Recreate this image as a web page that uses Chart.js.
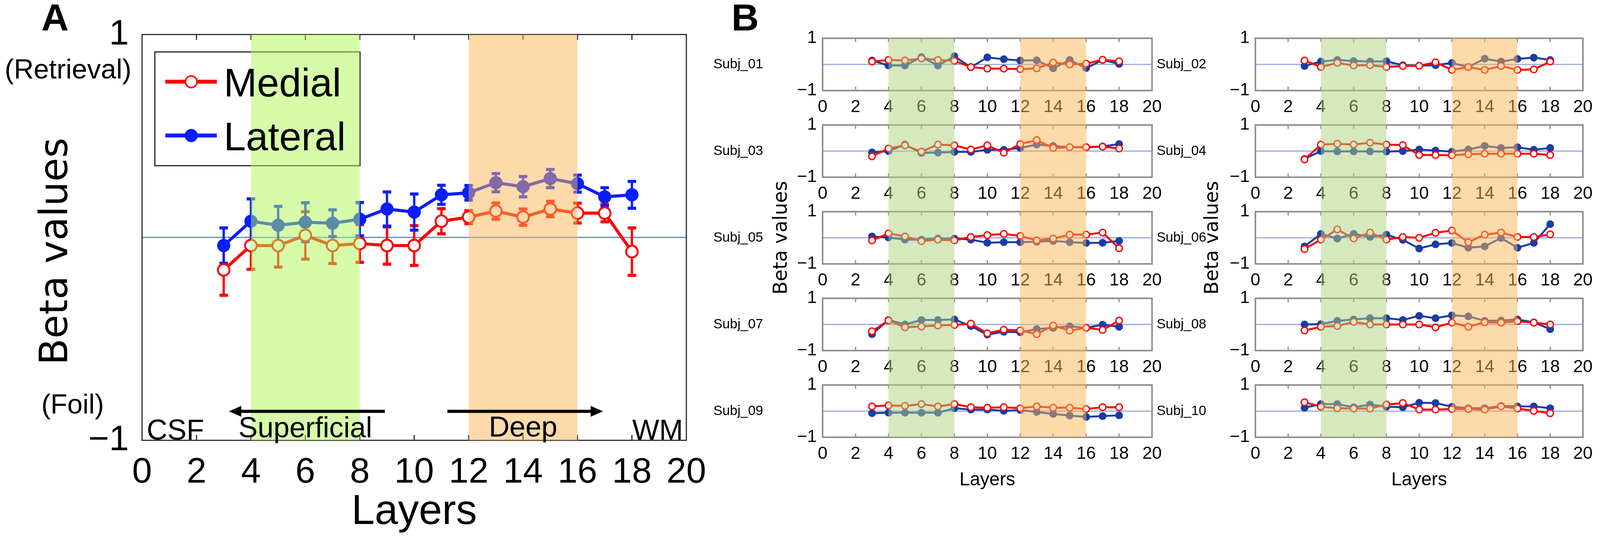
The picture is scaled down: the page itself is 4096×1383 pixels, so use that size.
<!DOCTYPE html>
<html>
<head>
<meta charset="utf-8">
<title>Beta values across layers</title>
<script src="https://cdn.jsdelivr.net/npm/chart.js@4.4.1/dist/chart.umd.min.js"></script>
<style>
  html, body { margin: 0; padding: 0; background: #ffffff; }
  #fig { position: relative; width: 4096px; height: 1383px; overflow: hidden; background: #ffffff; }
  #fig canvas { position: absolute; }
  .tag { position: absolute; font-family: "Liberation Sans", Arial, sans-serif; font-weight: bold; line-height: 1; transform: translate(-50%, -50%); color: #000; }
</style>
</head>
<body>
<div id="fig">
  <div class="tag" id="tagA">A</div>
  <div class="tag" id="tagB">B</div>
</div>
<script>
// layers sampled in every plot
const layers = [3, 4, 5, 6, 7, 8, 9, 10, 11, 12, 13, 14, 15, 16, 17, 18];
const xTicks = [0, 2, 4, 6, 8, 10, 12, 14, 16, 18, 20];
const yTicks = [-1, 1];

// panel A - group mean and error
const medialMean = [-0.16, -0.04, -0.04, 0.01, -0.04, -0.03, -0.04, -0.04, 0.08, 0.10, 0.13, 0.10, 0.14, 0.12, 0.12, -0.07];
const medialErr = [0.125, 0.117, 0.106, 0.117, 0.089, 0.093, 0.092, 0.098, 0.062, 0.032, 0.040, 0.040, 0.038, 0.049, 0.043, 0.117];
const lateralMean = [-0.04, 0.08, 0.06, 0.075, 0.07, 0.09, 0.14, 0.125, 0.21, 0.22, 0.27, 0.25, 0.29, 0.265, 0.20, 0.21];
const lateralErr = [0.087, 0.110, 0.093, 0.096, 0.066, 0.082, 0.084, 0.089, 0.047, 0.036, 0.045, 0.050, 0.045, 0.042, 0.045, 0.066];

// panel B - single subjects
const subjNames = ['Subj_01', 'Subj_02', 'Subj_03', 'Subj_04', 'Subj_05', 'Subj_06', 'Subj_07', 'Subj_08', 'Subj_09', 'Subj_10'];
const subj01Medial = [0.11, 0.17, 0.15, 0.23, 0.17, 0.14, -0.10, -0.16, -0.16, -0.18, -0.15, 0.07, 0.00, 0.03, 0.18, 0.12];
const subj01Lateral = [0.15, -0.04, -0.04, 0.28, -0.04, 0.31, -0.11, 0.27, 0.20, 0.15, 0.16, -0.15, 0.17, -0.14, 0.17, 0.02];
const subj02Medial = [0.15, -0.10, 0.06, -0.04, -0.03, -0.10, -0.06, -0.05, 0.08, -0.21, -0.10, -0.21, -0.06, -0.21, -0.19, 0.11];
const subj02Lateral = [-0.06, 0.11, 0.17, 0.13, 0.11, 0.12, -0.03, -0.05, -0.03, 0.06, -0.10, 0.22, 0.11, 0.21, 0.26, 0.17];
const subj03Medial = [-0.20, 0.10, 0.22, -0.02, 0.25, 0.22, 0.06, 0.22, -0.06, 0.27, 0.42, 0.12, 0.15, 0.15, 0.17, 0.10];
const subj03Lateral = [-0.05, 0.00, 0.25, -0.07, -0.06, -0.03, -0.03, 0.05, 0.05, 0.12, 0.25, 0.20, 0.15, 0.15, 0.18, 0.27];
const subj04Medial = [-0.32, 0.25, 0.28, 0.25, 0.32, 0.25, 0.23, -0.15, -0.15, -0.16, -0.12, -0.10, -0.10, -0.10, -0.10, -0.15];
const subj04Lateral = [-0.30, 0.00, -0.01, -0.01, -0.01, -0.02, 0.00, 0.06, 0.02, -0.02, 0.06, 0.20, 0.12, 0.15, 0.05, 0.12];
const subj05Medial = [-0.10, 0.17, 0.05, -0.13, -0.07, -0.10, 0.03, 0.10, 0.15, 0.07, -0.10, -0.03, 0.12, 0.12, 0.20, -0.40];
const subj05Lateral = [0.05, 0.01, -0.07, -0.07, -0.03, -0.03, -0.07, -0.19, -0.17, -0.17, -0.15, -0.12, -0.17, -0.20, -0.19, -0.12];
const subj06Medial = [-0.43, -0.07, 0.32, -0.03, 0.20, -0.07, 0.03, 0.00, 0.19, 0.28, -0.17, 0.12, 0.20, 0.03, 0.03, 0.13];
const subj06Lateral = [-0.33, 0.15, -0.03, 0.15, 0.03, 0.12, -0.08, -0.41, -0.25, -0.20, -0.38, -0.33, -0.01, -0.38, -0.20, 0.52];
const subj07Medial = [-0.26, 0.15, -0.11, -0.08, -0.04, -0.02, 0.03, -0.34, -0.20, -0.23, -0.37, -0.04, -0.24, -0.13, -0.21, 0.15];
const subj07Lateral = [-0.37, 0.17, 0.00, 0.17, 0.17, 0.19, -0.06, -0.39, -0.28, -0.30, -0.18, -0.13, -0.07, -0.13, -0.01, -0.09];
const subj08Medial = [-0.23, -0.09, -0.06, 0.10, 0.00, 0.00, 0.00, 0.00, -0.11, 0.07, -0.09, 0.08, 0.07, 0.12, 0.07, 0.00];
const subj08Lateral = [0.00, 0.01, 0.14, 0.19, 0.24, 0.24, 0.17, 0.33, 0.24, 0.35, 0.31, 0.14, 0.15, 0.19, 0.08, -0.18];
const subj09Medial = [0.18, 0.22, 0.20, 0.27, 0.18, 0.27, 0.15, 0.13, 0.15, 0.11, 0.18, 0.13, 0.13, 0.08, 0.15, 0.15];
const subj09Lateral = [-0.08, -0.06, -0.06, -0.06, -0.06, 0.11, 0.06, 0.06, 0.01, 0.04, -0.03, -0.11, -0.17, -0.22, -0.19, -0.16];
const subj10Medial = [0.34, 0.17, 0.11, 0.10, 0.10, 0.25, 0.31, 0.06, 0.06, 0.08, 0.08, 0.06, 0.18, 0.10, 0.01, -0.08];
const subj10Lateral = [0.13, 0.27, 0.27, 0.15, 0.25, 0.17, 0.15, 0.32, 0.31, 0.17, 0.11, 0.11, 0.20, 0.18, 0.18, 0.11];

const subjMedial = [subj01Medial, subj02Medial, subj03Medial, subj04Medial, subj05Medial, subj06Medial, subj07Medial, subj08Medial, subj09Medial, subj10Medial];
const subjLateral = [subj01Lateral, subj02Lateral, subj03Lateral, subj04Lateral, subj05Lateral, subj06Lateral, subj07Lateral, subj08Lateral, subj09Lateral, subj10Lateral];

// reference px -> window px
const S = 0.991;
const SANS = '"Liberation Sans", Arial, sans-serif';
const WIDE = '"DejaVu Sans", Verdana, sans-serif';
const REF_H = 1394;

Chart.defaults.font.family = SANS;
Chart.defaults.color = '#000';

const fig = document.getElementById('fig');

function place(x, y, w, h) {
  const c = document.createElement('canvas');
  const L = Math.round(x * S), T = Math.round(y * S);
  const W = Math.round((x + w) * S) - L, H = Math.round((y + h) * S) - T;
  c.width = W; c.height = H;
  c.style.left = L + 'px'; c.style.top = T + 'px';
  c.style.width = W + 'px'; c.style.height = H + 'px';
  fig.appendChild(c);
  return { c, L, T, W, H };
}

function font(size, family) {
  return { family: family || SANS, size: size * S, lineHeight: 1.2 };
}

function points(values) {
  return layers.map((l, i) => ({ x: l, y: values[i] }));
}

function tag(id, cx, cy) {
  const el = document.getElementById(id);
  el.style.left = (cx * S) + 'px';
  el.style.top = (cy * S) + 'px';
  el.style.fontSize = (98 * S) + 'px';
}
tag('tagA', 142, 45);
tag('tagB', 1925, 45);

function drawArrow(ctx, x1, x2, yy) {
  const dir = Math.sign(x2 - x1);
  ctx.beginPath();
  ctx.moveTo(x1, yy);
  ctx.lineTo(x2 - dir * 20 * S, yy);
  ctx.stroke();
  ctx.beginPath();
  ctx.moveTo(x2, yy);
  ctx.lineTo(x2 - dir * 32 * S, yy - 14 * S);
  ctx.lineTo(x2 - dir * 32 * S, yy + 14 * S);
  ctx.closePath();
  ctx.fill();
}

// ---------- panel A ----------
const boxA = { left: 367, top: 86, right: 1773, bottom: 1138 };
const pa = place(0, 0, 1900, REF_H);
const redA = '#ff0000';
const blueA = '#0a1eff';

const panelADecor = {
  id: 'panelADecor',
  beforeDatasetsDraw(chart) {
    const { ctx, chartArea: ca, scales: { x, y } } = chart;
    ctx.save();
    const y0 = y.getPixelForValue(0);
    ctx.strokeStyle = 'rgb(95,125,255)';
    ctx.lineWidth = 3 * S;
    ctx.beginPath(); ctx.moveTo(ca.left, y0); ctx.lineTo(ca.right, y0); ctx.stroke();
    chart.data.datasets.forEach((ds, i) => {
      const meta = chart.getDatasetMeta(i);
      ctx.strokeStyle = ds.borderColor;
      ctx.fillStyle = ds.borderColor;
      ctx.lineWidth = 6 * S;
      meta.data.forEach((pt, j) => {
        const v = ds.data[j].y, e = ds.errors[j];
        const yt = y.getPixelForValue(v + e), yb = y.getPixelForValue(v - e);
        ctx.beginPath(); ctx.moveTo(pt.x, yt); ctx.lineTo(pt.x, yb); ctx.stroke();
        ctx.fillRect(pt.x - 11 * S, yt - 4 * S, 22 * S, 8 * S);
        ctx.fillRect(pt.x - 11 * S, yb - 4 * S, 22 * S, 8 * S);
      });
    });
    ctx.restore();
  },
  afterDraw(chart) {
    const { ctx, chartArea: ca, scales: { x, y } } = chart;
    ctx.save();
    // axes box with inward ticks
    ctx.strokeStyle = '#2a2a2a';
    ctx.lineWidth = 3 * S;
    ctx.strokeRect(ca.left, ca.top, ca.right - ca.left, ca.bottom - ca.top);
    ctx.beginPath();
    x.ticks.forEach(t => {
      if (t.value <= x.min || t.value >= x.max) return;
      const px = x.getPixelForValue(t.value);
      ctx.moveTo(px, ca.top); ctx.lineTo(px, ca.top + 14 * S);
      ctx.moveTo(px, ca.bottom); ctx.lineTo(px, ca.bottom - 14 * S);
    });
    ctx.stroke();

    // legend frame and samples
    const lg = { left: ca.left + 33 * S, top: ca.top + 45 * S, w: 530 * S, h: 294 * S };
    ctx.fillStyle = '#ffffff';
    ctx.fillRect(lg.left, lg.top, lg.w, lg.h);
    ctx.strokeStyle = '#222';
    ctx.lineWidth = 3 * S;
    ctx.strokeRect(lg.left, lg.top, lg.w, lg.h);
    const rowY = [lg.top + 77 * S, lg.top + 216 * S];
    chart.data.datasets.forEach((ds, i) => {
      ctx.strokeStyle = ds.borderColor;
      ctx.lineWidth = 10 * S;
      ctx.beginPath();
      ctx.moveTo(lg.left + 27 * S, rowY[i]); ctx.lineTo(lg.left + 160 * S, rowY[i]);
      ctx.stroke();
      ctx.beginPath();
      ctx.arc(lg.left + 94 * S, rowY[i], 15 * S, 0, Math.PI * 2);
      ctx.fillStyle = ds.pointBackgroundColor;
      ctx.fill();
      ctx.lineWidth = 4 * S;
      ctx.strokeStyle = ds.pointBorderColor;
      ctx.stroke();
    });

    // superficial / deep bands laid over everything in the box
    ctx.fillStyle = 'rgba(173,249,85,0.5)';
    ctx.fillRect(x.getPixelForValue(4), ca.top, x.getPixelForValue(8) - x.getPixelForValue(4), ca.bottom - ca.top);
    ctx.fillStyle = 'rgba(249,181,85,0.5)';
    ctx.fillRect(x.getPixelForValue(12), ca.top, x.getPixelForValue(16) - x.getPixelForValue(12), ca.bottom - ca.top);

    // legend text
    ctx.fillStyle = '#000';
    ctx.textBaseline = 'alphabetic';
    ctx.textAlign = 'left';
    ctx.font = (103 * S) + 'px ' + SANS;
    ctx.fillText(chart.data.datasets[0].label, lg.left + 178 * S, rowY[0] + 38 * S);
    ctx.fillText(chart.data.datasets[1].label, lg.left + 178 * S, rowY[1] + 38 * S);

    // region annotations
    ctx.font = (74 * S) + 'px ' + SANS;
    ctx.textAlign = 'left';
    ctx.fillText('CSF', x.getPixelForValue(0.17), y.getPixelForValue(-0.996));
    ctx.textAlign = 'center';
    ctx.fillText('Superficial', x.getPixelForValue(6.0), y.getPixelForValue(-0.985));
    ctx.fillText('Deep', x.getPixelForValue(14.0), y.getPixelForValue(-0.981));
    ctx.textAlign = 'right';
    ctx.fillText('WM', x.getPixelForValue(19.88), y.getPixelForValue(-0.996));

    ctx.strokeStyle = '#000';
    ctx.lineWidth = 8 * S;
    drawArrow(ctx, x.getPixelForValue(8.92), x.getPixelForValue(3.19), y.getPixelForValue(-0.857));
    drawArrow(ctx, x.getPixelForValue(11.22), x.getPixelForValue(16.94), y.getPixelForValue(-0.857));

    // retrieval / foil side labels
    ctx.font = (71 * S) + 'px ' + SANS;
    ctx.textAlign = 'center';
    ctx.fillText('(Retrieval)', x.getPixelForValue(-2.72), y.getPixelForValue(0.783));
    ctx.fillText('(Foil)', x.getPixelForValue(-2.55), y.getPixelForValue(-0.867));

    // y axis title, sitting a little below the box centre as in the figure
    ctx.save();
    ctx.translate(ca.left - (boxA.left - 148) * S, (ca.top + ca.bottom) / 2 + 36 * S);
    ctx.rotate(-Math.PI / 2);
    ctx.font = (100 * S) + 'px ' + WIDE;
    ctx.textAlign = 'center';
    ctx.textBaseline = 'middle';
    ctx.fillText('Beta values', 0, 0);
    ctx.restore();
    ctx.restore();
  }
};

new Chart(pa.c, {
  type: 'line',
  data: {
    datasets: [
      {
        label: 'Medial', data: points(medialMean), errors: medialErr,
        borderColor: redA, borderWidth: 8 * S, tension: 0,
        pointRadius: 15 * S, pointBorderWidth: 5 * S,
        pointBackgroundColor: '#ffffff', pointBorderColor: redA
      },
      {
        label: 'Lateral', data: points(lateralMean), errors: lateralErr,
        borderColor: blueA, borderWidth: 8 * S, tension: 0,
        pointRadius: 15 * S, pointBorderWidth: 4 * S,
        pointBackgroundColor: blueA, pointBorderColor: blueA
      }
    ]
  },
  options: {
    responsive: false, animation: false, events: [], devicePixelRatio: 1,
    layout: { padding: { left: 0, bottom: 0, top: boxA.top * S - pa.T, right: pa.L + pa.W - boxA.right * S } },
    scales: {
      x: {
        type: 'linear', min: 0, max: 20,
        afterBuildTicks: s => { s.ticks = xTicks.map(v => ({ value: v })); },
        afterFit: s => { s.height = pa.T + pa.H - boxA.bottom * S; },
        grid: { display: false, drawTicks: false }, border: { display: false },
        ticks: { autoSkip: false, maxRotation: 0, color: '#000', font: font(92), padding: (1222 - boxA.bottom - 0.6 * 92) * S },
        title: { display: true, text: 'Layers', color: '#000', font: font(108), padding: { top: 0, bottom: pa.T + pa.H - 1324 * S - 0.6 * 108 * S } }
      },
      y: {
        type: 'linear', min: -1, max: 1,
        afterBuildTicks: s => { s.ticks = yTicks.map(v => ({ value: v })); },
        afterFit: s => { s.width = boxA.left * S - pa.L; },
        grid: { display: false, drawTicks: false }, border: { display: false },
        ticks: { color: '#000', font: font(92), padding: (boxA.left - 333) * S, callback: v => (v < 0 ? '\u2212' + Math.abs(v) : String(v)) },
        title: { display: false }
      }
    },
    plugins: { legend: { display: false }, tooltip: { enabled: false } }
  },
  plugins: [panelADecor]
});

// ---------- panel B ----------
const redB = '#ff0000';
const blueB = 'rgb(25,60,165)';
const colLayout = [
  { canvasLeft: 1830, canvasWidth: 1190, boxLeft: 2125, boxRight: 2976, labelDx: 218, titleX: 2019 },
  { canvasLeft: 2960, canvasWidth: 1170, boxLeft: 3243, boxRight: 4094, labelDx: 191, titleX: 3133 }
];
const firstRowTop = 99, rowStep = 224, rowBox = 135, rowLead = 30, rowCount = 5, rowMargin = 110;

function subplotDecor(name, cl, row, bandFrom, bandTo) {
  return {
    id: 'subplotDecor',
    beforeDatasetsDraw(chart) {
      const { ctx, chartArea: ca, scales: { y } } = chart;
      const y0 = y.getPixelForValue(0);
      ctx.save();
      ctx.strokeStyle = 'rgb(150,170,225)';
      ctx.lineWidth = 3 * S;
      ctx.beginPath(); ctx.moveTo(ca.left, y0); ctx.lineTo(ca.right, y0); ctx.stroke();
      ctx.restore();
    },
    afterDraw(chart) {
      const { ctx, chartArea: ca, scales: { x, y } } = chart;
      ctx.save();
      ctx.strokeStyle = 'rgb(140,140,140)';
      ctx.lineWidth = 4 * S;
      ctx.strokeRect(ca.left, ca.top, ca.right - ca.left, ca.bottom - ca.top);
      ctx.lineWidth = 3 * S;
      ctx.beginPath();
      x.ticks.forEach(t => {
        if (t.value <= x.min || t.value >= x.max) return;
        const px = x.getPixelForValue(t.value);
        ctx.moveTo(px, ca.top); ctx.lineTo(px, ca.top + 10 * S);
        ctx.moveTo(px, ca.bottom); ctx.lineTo(px, ca.bottom - 10 * S);
      });
      ctx.stroke();

      // bands run unbroken through the whole column: each subplot paints its own slice
      const bTop = row === 0 ? ca.top : bandFrom;
      const bBottom = row === rowCount - 1 ? ca.bottom : bandTo;
      ctx.fillStyle = 'rgba(173,209,125,0.5)';
      ctx.fillRect(x.getPixelForValue(4), bTop, x.getPixelForValue(8) - x.getPixelForValue(4), bBottom - bTop);
      ctx.fillStyle = 'rgba(249,181,85,0.5)';
      ctx.fillRect(x.getPixelForValue(12), bTop, x.getPixelForValue(16) - x.getPixelForValue(12), bBottom - bTop);

      ctx.fillStyle = '#000';
      ctx.font = (35 * S) + 'px ' + SANS;
      ctx.textAlign = 'center';
      ctx.textBaseline = 'middle';
      ctx.fillText(name, ca.left - cl.labelDx * S, y.getPixelForValue(0));
      ctx.restore();
    }
  };
}

subjNames.forEach((name, k) => {
  const col = k % 2, row = Math.floor(k / 2);
  const cl = colLayout[col];
  const top = firstRowTop + row * rowStep;
  const last = row === rowCount - 1;
  const sliceTop = top - rowLead;
  const sliceBottom = last ? REF_H : sliceTop + rowStep;
  const cTop = Math.max(0, sliceTop - rowMargin);
  const cBottom = Math.min(REF_H, sliceBottom + rowMargin);
  const p = place(cl.canvasLeft, cTop, cl.canvasWidth, cBottom - cTop);
  const boxBottom = (top + rowBox) * S - p.T;
  const bandFrom = Math.round(sliceTop * S) - p.T;
  const bandTo = Math.round(sliceBottom * S) - p.T;

  new Chart(p.c, {
    type: 'line',
    data: {
      datasets: [
        {
          label: 'Medial', data: points(subjMedial[k]),
          borderColor: redB, borderWidth: 5 * S, tension: 0,
          pointRadius: 8.5 * S, pointBorderWidth: 3.5 * S,
          pointBackgroundColor: '#ffffff', pointBorderColor: redB
        },
        {
          label: 'Lateral', data: points(subjLateral[k]),
          borderColor: blueB, borderWidth: 5 * S, tension: 0,
          pointRadius: 8.5 * S, pointBorderWidth: 3 * S,
          pointBackgroundColor: blueB, pointBorderColor: blueB
        }
      ]
    },
    options: {
      responsive: false, animation: false, events: [], devicePixelRatio: 1,
      layout: { padding: { left: 0, bottom: 0, top: top * S - p.T, right: p.L + p.W - cl.boxRight * S } },
      scales: {
        x: {
          type: 'linear', min: 0, max: 20,
          afterBuildTicks: s => { s.ticks = xTicks.map(v => ({ value: v })); },
          afterFit: s => { s.height = p.H - boxBottom; },
          grid: { display: false, drawTicks: false }, border: { display: false },
          ticks: { autoSkip: false, maxRotation: 0, color: '#000', font: font(45), padding: (43 - 0.6 * 45) * S },
          title: { display: last, text: 'Layers', color: '#000', font: font(48), padding: { top: 0, bottom: p.T + p.H - 1241 * S - 0.6 * 48 * S } }
        },
        y: {
          type: 'linear', min: -1, max: 1,
          afterBuildTicks: s => { s.ticks = yTicks.map(v => ({ value: v })); },
          afterFit: s => { s.width = cl.boxLeft * S - p.L; },
          grid: { display: false, drawTicks: false }, border: { display: false },
          ticks: { color: '#000', font: font(45), padding: 15 * S, callback: v => (v < 0 ? '\u2212' + Math.abs(v) : String(v)) },
          title: { display: row === 2, text: 'Beta values', color: '#000', font: font(50, WIDE), padding: { top: cl.titleX * S - p.L - 0.6 * 50 * S, bottom: 0 } }
        }
      },
      plugins: { legend: { display: false }, tooltip: { enabled: false } }
    },
    plugins: [subplotDecor(name, cl, row, bandFrom, bandTo)]
  });
});
</script>
</body>
</html>
